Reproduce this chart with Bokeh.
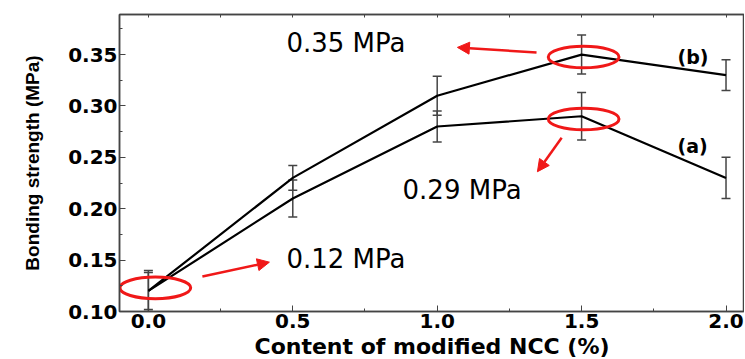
from bokeh.plotting import figure
from bokeh.models import (ColumnDataSource, Whisker, TeeHead, Arrow, NormalHead,
                          FixedTicker, PrintfTickFormatter, LinearAxis, Range1d)
from bokeh.core.properties import value
from bokeh.embed import file_html
from bokeh.resources import INLINE

# ---- data ----
content = [0.0, 0.5, 1.0, 1.5, 2.0]
strength_a = [0.12, 0.21, 0.28, 0.29, 0.23]
error_a = [0.018, 0.018, 0.015, 0.023, 0.020]
strength_b = [0.12, 0.23, 0.31, 0.35, 0.33]
error_b = [0.020, 0.012, 0.019, 0.019, 0.015]

x_ticks = [0.0, 0.5, 1.0, 1.5, 2.0]
x_minor = [0.25, 0.75, 1.25, 1.75]
y_ticks = [0.10, 0.15, 0.20, 0.25, 0.30, 0.35]
y_minor = [0.125, 0.175, 0.225, 0.275, 0.325, 0.375]

# highlighted points (ellipses)
mark_x = [0.024, 1.507, 1.507]
mark_y = [0.123, 0.3476, 0.2873]

# annotation labels
label_text = ["0.35 MPa", "0.29 MPa", "0.12 MPa"]
label_x = [0.478, 0.880, 0.478]
label_y = [0.3617, 0.2186, 0.1506]

series_text = ["(b)", "(a)"]
series_x = [1.832, 1.832]
series_y = [0.348, 0.2615]

# arrows: start -> end
arrow_x0 = [0.187, 1.344, 1.431]
arrow_y0 = [0.134, 0.352, 0.269]
arrow_x1 = [0.419, 1.070, 1.347]
arrow_y1 = [0.148, 0.357, 0.236]

RED = "#f01818"
DARK = "#444444"

p = figure(frame_width=625, frame_height=297, output_backend="svg", toolbar_location=None,
           x_range=Range1d(-0.10, 2.064), y_range=Range1d(0.10, 0.389),
           min_border_left=119, min_border_right=0, min_border_top=14, min_border_bottom=40)
p.background_fill_color = "white"
p.border_fill_color = "white"
p.grid.visible = False
p.outline_line_color = DARK
p.outline_line_width = 1.5

xb = p.xaxis[0]
yl = p.yaxis[0]

# top axis: tick marks only (no labels)
top = LinearAxis(ticker=FixedTicker(ticks=[], minor_ticks=x_ticks + x_minor))
p.add_layout(top, "above")

# axes
for ax in (xb, yl, top):
    ax.axis_line_color = DARK
    ax.axis_line_width = 1.5
    ax.major_tick_in = 6
    ax.major_tick_out = 0
    ax.minor_tick_in = 3
    ax.minor_tick_out = 0
    ax.major_tick_line_color = DARK
    ax.minor_tick_line_color = DARK

for ax in (xb, yl):
    ax.major_label_text_font = "DejaVu Sans"
    ax.major_label_text_font_style = "bold"
    ax.major_label_text_font_size = "20px"
    ax.major_label_text_color = "black"
    ax.major_label_standoff = 2

xb.ticker = FixedTicker(ticks=x_ticks, minor_ticks=x_minor)
xb.formatter = PrintfTickFormatter(format="%.1f")
yl.ticker = FixedTicker(ticks=y_ticks, minor_ticks=y_minor)
yl.formatter = PrintfTickFormatter(format="%.2f")

xb.axis_label = "Content of modified NCC (%)"
xb.axis_label_text_font = "DejaVu Sans"
xb.axis_label_text_font_style = "bold"
xb.axis_label_text_font_size = "22px"
xb.axis_label_text_color = "black"
xb.axis_label_standoff = 3

yl.axis_label = "Bonding strength (MPa)"
yl.axis_label_text_font = "Liberation Sans"
yl.axis_label_text_font_style = "bold"
yl.axis_label_text_font_size = "19px"
yl.axis_label_text_color = "black"
yl.axis_label_standoff = 22

# data
src = ColumnDataSource(dict(
    x=content, a=strength_a, b=strength_b,
    a_lo=[v - e for v, e in zip(strength_a, error_a)],
    a_hi=[v + e for v, e in zip(strength_a, error_a)],
    b_lo=[v - e for v, e in zip(strength_b, error_b)],
    b_hi=[v + e for v, e in zip(strength_b, error_b)],
))

for lo, hi in (("a_lo", "a_hi"), ("b_lo", "b_hi")):
    w = Whisker(source=src, base="x", lower=lo, upper=hi, line_color=DARK, line_width=1.5,
                upper_head=TeeHead(size=9, line_color=DARK, line_width=1.5),
                lower_head=TeeHead(size=9, line_color=DARK, line_width=1.5))
    p.add_layout(w)

p.line("x", "a", source=src, line_color="black", line_width=2.2)
p.line("x", "b", source=src, line_color="black", line_width=2.2)

# red ellipses
p.ellipse(x=mark_x, y=mark_y, width=0.245, height=0.021, fill_color=None,
          line_color=RED, line_width=3)

# red arrows
for x0, y0, x1, y1 in zip(arrow_x0, arrow_y0, arrow_x1, arrow_y1):
    p.add_layout(Arrow(x_start=x0, y_start=y0, x_end=x1, y_end=y1,
                       line_color=RED, line_width=2.5,
                       end=NormalHead(size=12, fill_color=RED, line_color=RED)))

p.text(x=label_x, y=label_y, text=label_text, text_font=value("DejaVu Sans"),
       text_font_size="26px", text_align="left", text_baseline="middle", text_color="black")
p.text(x=series_x, y=series_y, text=series_text, text_font=value("DejaVu Sans"),
       text_font_style="bold", text_font_size="19px", text_align="left",
       text_baseline="middle", text_color="black")

open("out.html", "w").write(file_html(p, INLINE))
